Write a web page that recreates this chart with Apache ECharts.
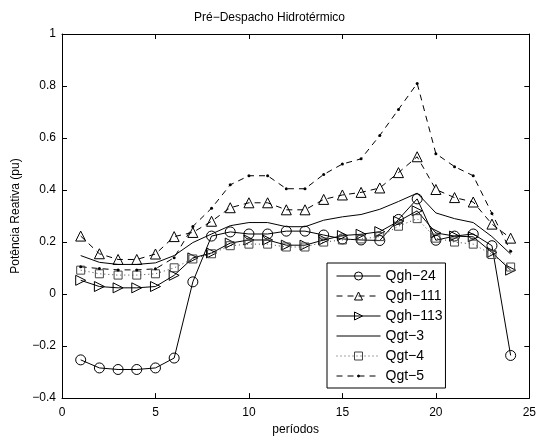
<!DOCTYPE html>
<html>
<head>
<meta charset="utf-8">
<script src="https://cdn.jsdelivr.net/npm/echarts@6/dist/echarts.min.js"></script>
<style>
  html, body { margin:0; padding:0; background:#fff; }
  #chart { width:539px; height:441px; }
</style>
</head>
<body>
<div id="chart"></div>
<script>
// Reactive power per period
var periods = [1,2,3,4,5,6,7,8,9,10,11,12,13,14,15,16,17,18,19,20,21,22,23,24];
var qgh24  = [-0.253,-0.284,-0.290,-0.290,-0.284,-0.246,0.047,0.223,0.239,0.231,0.231,0.242,0.242,0.227,0.212,0.208,0.206,0.287,0.366,0.207,0.223,0.231,0.186,-0.236];
var qgh111 = [0.223,0.155,0.133,0.133,0.154,0.221,0.237,0.280,0.332,0.351,0.351,0.324,0.324,0.364,0.381,0.391,0.408,0.467,0.528,0.402,0.371,0.354,0.269,0.215];
var qgh113 = [0.053,0.029,0.024,0.024,0.029,0.072,0.139,0.158,0.196,0.208,0.208,0.188,0.188,0.208,0.225,0.230,0.240,0.280,0.320,0.235,0.223,0.220,0.160,0.092];
var qgt3   = [0.148,0.122,0.114,0.114,0.120,0.148,0.198,0.231,0.263,0.275,0.275,0.259,0.259,0.284,0.297,0.306,0.326,0.356,0.388,0.312,0.290,0.275,0.221,0.154];
var qgt4   = [0.092,0.078,0.073,0.073,0.078,0.101,0.135,0.155,0.186,0.192,0.192,0.181,0.181,0.200,0.208,0.212,0.221,0.261,0.290,0.215,0.200,0.192,0.152,0.104];
var qgt5   = [0.105,0.098,0.093,0.093,0.097,0.140,0.260,0.330,0.420,0.455,0.455,0.405,0.405,0.460,0.500,0.520,0.610,0.710,0.810,0.540,0.490,0.455,0.310,0.165];

var FONT = 'Liberation Sans, Arial, sans-serif';
// marker shapes: a small dot padded inside a bigger box (so the legend keeps it small),
// and an empty one for the plain line
var DOT  = 'path://M0,0L0,0M20,20L20,20M7.5,10a2.5,2.5 0 1,0 5,0a2.5,2.5 0 1,0 -5,0Z';
var NONE = 'path://M0,0L0,0M10,10L10,10';

var chart = echarts.init(document.getElementById('chart'), null, {renderer:'canvas'});

function pairs(v){ return periods.map(function(p,i){ return [p, v[i]]; }); }
function fmtNum(v){
  var s = (Math.round(v*10)/10).toString();
  return s.charAt(0) === '-' ? '\u2212' + s.slice(1) : s;
}

function line(name, vals, opt){
  return {
    name:name, type:'line', data:pairs(vals),
    symbol:opt.symbol, symbolSize:opt.size || 8,
    symbolRotate:opt.rotate || 0, showSymbol:opt.symbol !== NONE,
    lineStyle:{ color:opt.lineColor || '#000', width:1, type:opt.type || 'solid' },
    itemStyle:{ color:opt.fill || 'transparent', borderColor:opt.markColor || '#000', borderWidth:opt.bw === undefined ? 1 : opt.bw },
    emphasis:{ disabled:true }, animation:false
  };
}

var series = [
  line('Qgh\u221224',  qgh24,  { symbol:'circle',   size:10 }),
  line('Qgh\u2212111', qgh111, { symbol:'triangle', size:10, type:[6,5] }),
  line('Qgh\u2212113', qgh113, { symbol:'triangle', size:10, rotate:-90 }),
  line('Qgt\u22123',   qgt3,   { symbol:NONE }),
  line('Qgt\u22124',   qgt4,   { symbol:'rect', size:8, type:[1,3], lineColor:'#444', markColor:'#444' }),
  line('Qgt\u22125',   qgt5,   { symbol:DOT, size:12, type:[6,5], fill:'#000', bw:0 })
];

function axisX(pos, labels){
  return {
    type:'value', position:pos, min:0, max:25, interval:5,
    axisLine:{ show:true, onZero:false, lineStyle:{ color:'#000', width:1 } },
    axisTick:{ show:true, inside:true, length:5, lineStyle:{ color:'#000' } },
    axisLabel:{ show:labels, color:'#000', fontSize:12, fontFamily:FONT, margin:9 },
    splitLine:{ show:false },
    name: labels ? 'per\u00edodos' : '', nameLocation:'middle', nameGap:25,
    nameTextStyle:{ color:'#000', fontSize:12, fontFamily:FONT }
  };
}
function axisY(pos, labels){
  return {
    type:'value', position:pos, min:-0.4, max:1, interval:0.2,
    axisLine:{ show:true, onZero:false, lineStyle:{ color:'#000', width:1 } },
    axisTick:{ show:true, inside:true, length:5, lineStyle:{ color:'#000' } },
    axisLabel:{ show:labels, color:'#000', fontSize:12, fontFamily:FONT, margin:6, formatter:fmtNum },
    splitLine:{ show:false },
    name: labels ? 'Pot\u00eancia Reativa (pu)' : '', nameLocation:'middle', nameGap:40,
    nameTextStyle:{ color:'#000', fontSize:12, fontFamily:FONT }
  };
}

chart.setOption({
  backgroundColor:'#fff',
  title:{
    text:'Pr\u00e9\u2212Despacho Hidrot\u00e9rmico', left:'center', top:12, padding:0,
    textStyle:{ color:'#000', fontSize:12, fontWeight:'normal', fontFamily:FONT }
  },
  grid:{ left:62, right:8, top:34, bottom:37, show:false },
  xAxis:[axisX('bottom', true), axisX('top', false)],
  yAxis:[axisY('left', true), axisY('right', false)],
  legend:{
    orient:'vertical', left:327, top:263,
    backgroundColor:'#fff', borderColor:'#000', borderWidth:1, borderRadius:0,
    padding:[6,3,5,9], itemGap:6, itemWidth:44, itemHeight:10,
    lineStyle:{ width:1 }, itemStyle:{ borderWidth:1 },
    textStyle:{ color:'#000', fontSize:14, fontFamily:FONT },
    data:series.map(function(s){ return s.name; })
  },
  series:series
});
</script>
</body>
</html>
